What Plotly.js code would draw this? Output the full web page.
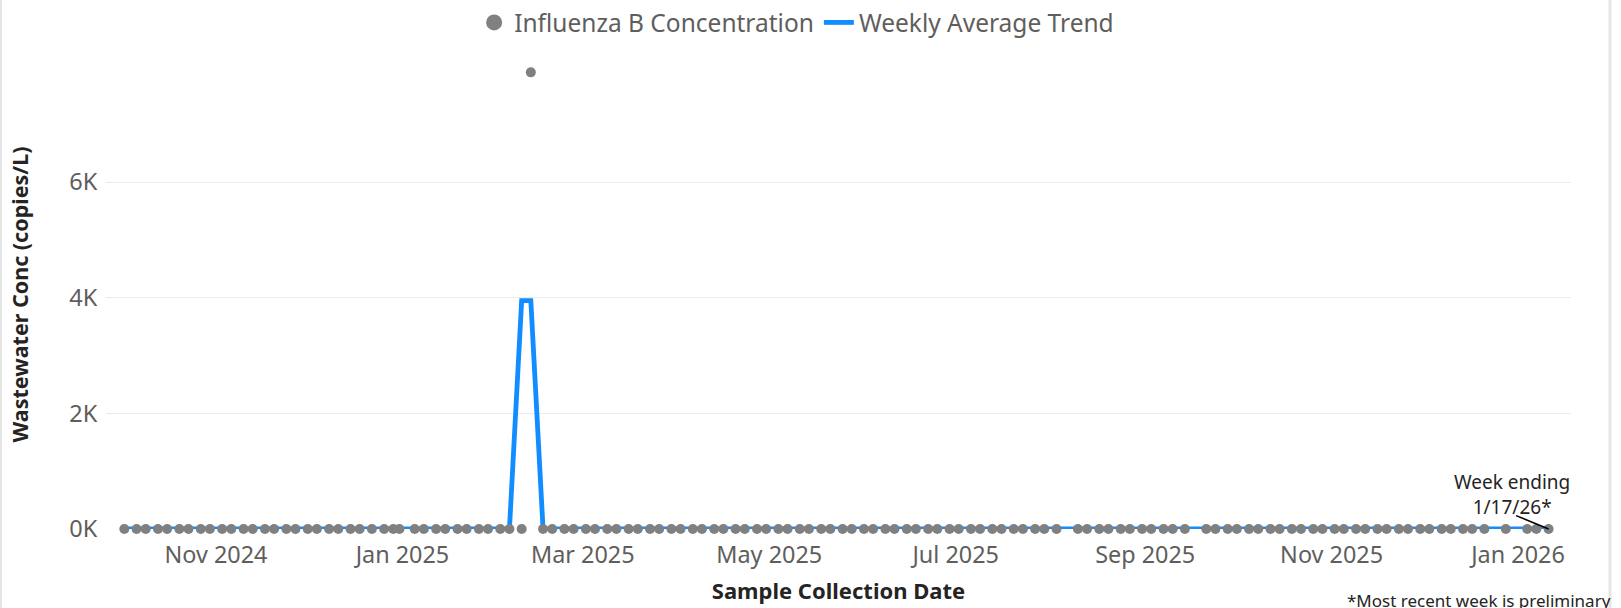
<!DOCTYPE html>
<html>
<head>
<meta charset="utf-8">
<script src="https://cdn.plot.ly/plotly-3.0.1.min.js"></script>
<style>
html,body{margin:0;padding:0;background:#fff;}
#chart{width:1621px;height:608px;}
</style>
</head>
<body>
<div id="chart"></div>
<script>
// Sample collection dates (twice weekly)
const sampleDates = [
  '2024-10-02','2024-10-06','2024-10-09','2024-10-13','2024-10-16','2024-10-20','2024-10-23','2024-10-27','2024-10-30',
  '2024-11-03','2024-11-06','2024-11-10','2024-11-13','2024-11-17','2024-11-20','2024-11-24','2024-11-27',
  '2024-12-01','2024-12-04','2024-12-08','2024-12-11','2024-12-15','2024-12-18','2024-12-22','2024-12-26','2024-12-29','2024-12-31',
  '2025-01-05','2025-01-08','2025-01-12','2025-01-15','2025-01-19','2025-01-22','2025-01-26','2025-01-29',
  '2025-02-02','2025-02-05','2025-02-09','2025-02-12','2025-02-16','2025-02-19','2025-02-23','2025-02-26',
  '2025-03-02','2025-03-05','2025-03-09','2025-03-12','2025-03-16','2025-03-19','2025-03-23','2025-03-26','2025-03-30',
  '2025-04-02','2025-04-06','2025-04-09','2025-04-13','2025-04-16','2025-04-20','2025-04-23','2025-04-27','2025-04-30',
  '2025-05-04','2025-05-07','2025-05-11','2025-05-14','2025-05-18','2025-05-21','2025-05-25','2025-05-28',
  '2025-06-01','2025-06-04','2025-06-08','2025-06-11','2025-06-15','2025-06-18','2025-06-22','2025-06-25','2025-06-29',
  '2025-07-02','2025-07-06','2025-07-09','2025-07-13','2025-07-16','2025-07-20','2025-07-23','2025-07-27','2025-07-30',
  '2025-08-03','2025-08-10','2025-08-13','2025-08-17','2025-08-20','2025-08-24','2025-08-27','2025-08-31',
  '2025-09-03','2025-09-07','2025-09-10','2025-09-14','2025-09-21','2025-09-24','2025-09-28',
  '2025-10-01','2025-10-05','2025-10-08','2025-10-12','2025-10-15','2025-10-19','2025-10-22','2025-10-26','2025-10-29',
  '2025-11-02','2025-11-05','2025-11-09','2025-11-12','2025-11-16','2025-11-19','2025-11-23','2025-11-26','2025-11-30',
  '2025-12-03','2025-12-07','2025-12-10','2025-12-14','2025-12-17','2025-12-21','2025-12-28',
  '2026-01-04','2026-01-07','2026-01-11'
];

// Influenza B concentration (copies/L), one per sample date
const concentration = [
  0,0,0,0,0,0,0,0,0,
  0,0,0,0,0,0,0,0,
  0,0,0,0,0,0,0,0,0,0,
  0,0,0,0,0,0,0,0,
  0,0,0,7900,0,0,0,0,
  0,0,0,0,0,0,0,0,0,
  0,0,0,0,0,0,0,0,0,
  0,0,0,0,0,0,0,0,
  0,0,0,0,0,0,0,0,0,
  0,0,0,0,0,0,0,0,0,
  0,0,0,0,0,0,0,0,
  0,0,0,0,0,0,0,
  0,0,0,0,0,0,0,0,0,
  0,0,0,0,0,0,0,0,0,
  0,0,0,0,0,0,0,
  0,0,0
];

const seriesNames = ['Influenza B Concentration', 'Weekly Average Trend'];
const yTickVals = [0, 2000, 4000, 6000];
const yTickText = ['0K', '2K', '4K', '6K'];
const latestWeekLabel = 'Week ending<br>1/17/26*';
const footnote = '*Most recent week is preliminary';

// Weekly (Sun-Sat) average of the samples
function weekStart(s) {
  const d = new Date(s + 'T00:00:00Z');
  d.setUTCDate(d.getUTCDate() - d.getUTCDay());
  return d.toISOString().slice(0, 10);
}
const sums = {}, counts = {};
sampleDates.forEach((d, i) => {
  const k = weekStart(d);
  sums[k] = (sums[k] || 0) + concentration[i];
  counts[k] = (counts[k] || 0) + 1;
});
const weeklyAverage = sampleDates.map(d => { const k = weekStart(d); return sums[k] / counts[k]; });

const lastDate = sampleDates[sampleDates.length - 1];
const FONT = '"Segoe UI", "Noto Sans", "Open Sans", sans-serif';

const traces = [
  {
    x: sampleDates, y: weeklyAverage, name: seriesNames[1], type: 'scatter', mode: 'lines',
    line: {color: '#118DFF', width: 4.8}, cliponaxis: false, legendrank: 2, hoverinfo: 'x+y'
  },
  {
    x: sampleDates, y: concentration, name: seriesNames[0], type: 'scatter', mode: 'markers',
    marker: {color: '#808080', size: 10}, cliponaxis: false, showlegend: false, legendgroup: 'c'
  },
  {
    x: [null], y: [null], name: seriesNames[0], type: 'scatter', mode: 'markers',
    marker: {color: '#808080', size: 19}, legendrank: 1, legendgroup: 'c', hoverinfo: 'skip'
  }
];

const layout = {
  width: 1621, height: 608,
  margin: {l: 106, r: 50, t: 60, b: 79, pad: 0, autoexpand: false},
  paper_bgcolor: '#ffffff', plot_bgcolor: '#ffffff',
  font: {family: FONT, color: '#605E5C'},
  showlegend: true,
  legend: {
    orientation: 'h', xref: 'container', yref: 'container',
    x: 0.2925, xanchor: 'left', y: 0.963, yanchor: 'middle',
    font: {size: 24.5, color: '#605E5C', family: FONT}, bgcolor: 'rgba(0,0,0,0)', traceorder: 'normal'
  },
  xaxis: {
    type: 'date', range: ['2024-09-26', '2026-01-18 08:00'],
    tick0: '2024-11-01', dtick: 'M2', tickformat: '%b %Y',
    showgrid: false, zeroline: false, showline: false,
    ticks: 'outside', ticklen: 5, tickcolor: 'rgba(0,0,0,0)',
    tickfont: {size: 23.4, color: '#605E5C', family: FONT},
    title: {text: 'Sample Collection Date', font: {size: 22, color: '#252423', family: FONT, weight: 700}, standoff: 14}
  },
  yaxis: {
    range: [0, 8114], tickvals: yTickVals, ticktext: yTickText,
    showgrid: true, gridcolor: '#EBEBEB', gridwidth: 1, zeroline: false, showline: false,
    ticks: 'outside', ticklen: 3, tickcolor: 'rgba(0,0,0,0)',
    tickfont: {size: 23.5, color: '#605E5C', family: FONT},
    title: {text: 'Wastewater Conc (copies/L)', font: {size: 21.5, color: '#252423', family: FONT, weight: 700}, standoff: 34}
  },
  annotations: [
    {
      x: lastDate, y: 0, xref: 'x', yref: 'y', text: latestWeekLabel, showarrow: false,
      xanchor: 'center', yanchor: 'middle', xshift: -37, yshift: 35,
      font: {size: 19, color: '#252423', family: FONT}, align: 'center'
    },
    {
      x: lastDate, y: 0, xref: 'x', yref: 'y', text: ' ', showarrow: true,
      arrowhead: 0, arrowwidth: 1.6, arrowcolor: '#000000', ax: -34, ay: -14, standoff: 0,
      font: {size: 1}
    },
    {
      x: 1.0287, y: -0.1514, xref: 'paper', yref: 'paper', text: footnote, showarrow: false,
      xanchor: 'right', yanchor: 'middle', font: {size: 17, color: '#252423', family: FONT}
    }
  ],
  shapes: [
    {type: 'line', xref: 'paper', yref: 'paper', x0: -0.0717, x1: -0.0717, y0: -0.1684, y1: 1.1279,
     line: {color: '#E6E6E6', width: 2}, layer: 'below'},
    {type: 'line', xref: 'paper', yref: 'paper', x0: 1.0266, x1: 1.0266, y0: -0.1684, y1: 1.1279,
     line: {color: '#E6E6E6', width: 3}, layer: 'below'}
  ]
};

Plotly.newPlot('chart', traces, layout, {displayModeBar: false, responsive: false});
</script>
</body>
</html>
